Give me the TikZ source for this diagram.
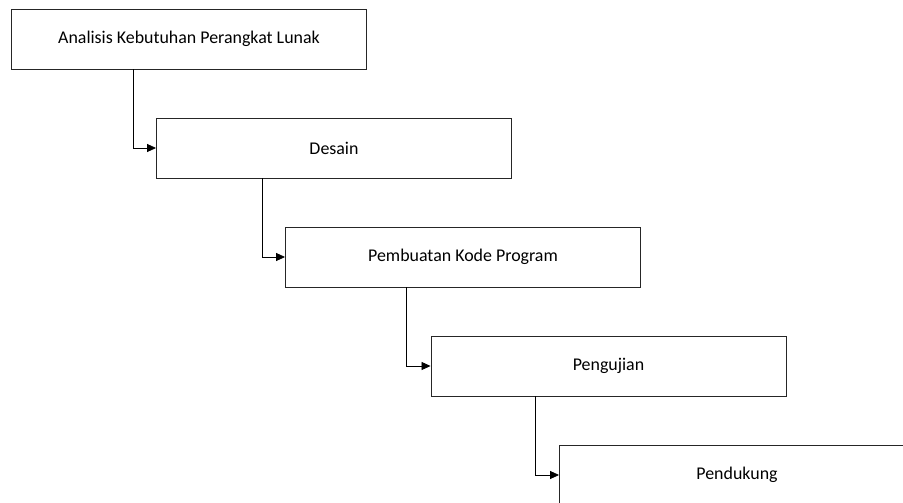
\documentclass[tikz,border=0pt]{standalone}
\usepackage{fontspec}
\setmainfont{Carlito}
\usetikzlibrary{arrows.meta}
\begin{document}
\begin{tikzpicture}[x=1pt,y=-1pt,
  phase/.style={draw=black!85, line width=0.9pt, fill=white, minimum width=355pt, minimum height=60pt, inner sep=0pt, font=\fontsize{17.9}{21}\selectfont},
  flow/.style={draw=black, line width=0.8pt, -{Triangle[length=9pt,width=8pt]}}]
\useasboundingbox (0,0) rectangle (903,503);
\node[phase] (a) at (189,39) {Analisis Kebutuhan Perangkat Lunak};
\node[phase] (b) at (334,148) {Desain};
\node[phase] (c) at (463,257) {Pembuatan Kode Program};
\node[phase] (d) at (608.5,366) {Pengujian};
\node[phase] (e) at (737,475) {Pendukung};
\draw[flow] ([xshift=122pt]a.south west) |- (b.west);
\draw[flow] ([xshift=106pt]b.south west) |- (c.west);
\draw[flow] ([xshift=121pt]c.south west) |- (d.west);
\draw[flow] ([xshift=105pt]d.south west) |- (e.west);
\end{tikzpicture}
\end{document}
